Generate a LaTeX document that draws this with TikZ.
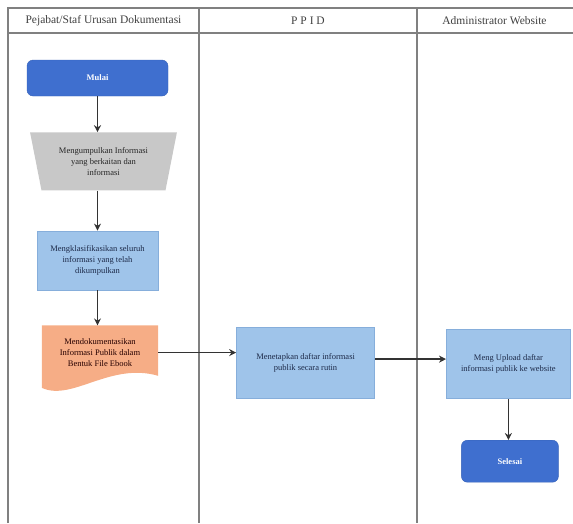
\documentclass[tikz,border=0pt]{standalone}
\usepackage{fontspec}
\setmainfont{Liberation Serif}
\usetikzlibrary{arrows.meta}
\usetikzlibrary{positioning}
\usetikzlibrary{shapes.geometric}
\usetikzlibrary{backgrounds}
\usepackage{xcolor}

\definecolor{mulaiblue}{HTML}{3F6FCF}
\definecolor{mulaiedge}{HTML}{3561B8}
\definecolor{boxblue}{HTML}{9FC4EA}
\definecolor{boxedge}{HTML}{86AEDB}
\definecolor{trapgray}{HTML}{C8C8C8}
\definecolor{docorange}{HTML}{F6AD86}
\definecolor{laneline}{HTML}{808080}
\definecolor{navytext}{HTML}{1E2B4A}

\begin{document}
\begin{tikzpicture}[x=1pt, y=-1pt,
	header/.style={font=\fontsize{11.5}{13}\selectfont, text=black!75},
	terminal/.style={rectangle, rounded corners=6pt, fill=mulaiblue, draw=mulaiedge, inner sep=0pt,
		text=white, font=\fontsize{8.5}{10}\selectfont\bfseries},
	process/.style={rectangle, fill=boxblue, draw=boxedge, line width=0.8pt, inner sep=0pt,
		align=center, text=navytext, font=\fontsize{8.5}{11}\selectfont},
	flow/.style={-{Stealth[length=7pt,width=7pt]}, draw=black!80, line width=1.5pt}]
	\useasboundingbox (0,0) rectangle (573,523);

	% swimlanes
	\draw[laneline, line width=1.2pt] (8,523) -- (8,8) -- (573,8);
	\draw[laneline, line width=1.2pt] (8,33) -- (573,33);
	\draw[laneline, line width=1.2pt] (199,8) -- (199,523);
	\draw[laneline, line width=1.2pt] (417,8) -- (417,523);

	\node[header] (h_staf) at (103.5,20.5) {Pejabat/Staf Urusan Dokumentasi};
	\node[header] (h_ppid) at (308,20.5) {P P I D};
	\node[header] (h_admin) at (494.5,20.5) {Administrator Website};

	% Pejabat/Staf lane
	\node[terminal, minimum width=141pt, minimum height=36pt] (mulai) at (97.5,78) {Mulai};
	\node[trapezium, trapezium stretches=true, shape border rotate=180,
		trapezium left angle=73.7, trapezium right angle=73.7,
		minimum width=147pt, minimum height=58pt, inner sep=0pt,
		fill=trapgray, align=center, text=black!85, font=\fontsize{8.5}{11}\selectfont,
		below=36pt of mulai, xshift=6pt] (kumpul)
		{Mengumpulkan Informasi\\yang berkaitan dan\\informasi};
	\node[process, minimum width=121pt, minimum height=59pt,
		below=40pt of kumpul, xshift=-6pt] (klas)
		{Mengklasifikasikan seluruh\\informasi yang telah\\dikumpulkan};
	\node[minimum width=116pt, minimum height=54pt, inner sep=0pt, align=center,
		text=black!85!red, font=\fontsize{8.5}{11}\selectfont,
		below=35pt of klas, xshift=2.5pt] (doc)
		{Mendokumentasikan\\Informasi Publik dalam\\Bentuk File Ebook};
	\begin{scope}[on background layer]
		\fill[docorange] (doc.north west) -- (doc.north east) -- ([yshift=4pt]doc.south east)
			.. controls ([xshift=-48pt,yshift=18pt]doc.south east) and ([xshift=30pt,yshift=-22pt]doc.south west)
			.. ([yshift=-8pt]doc.south west) -- cycle;
	\end{scope}

	\draw[flow] (mulai.south) -- (mulai.south |- kumpul.north);
	\draw[flow] (klas.north |- kumpul.south) -- (klas.north);
	\draw[flow] (klas.south) -- (klas.south |- doc.north);

	% PPID lane
	\node[process, minimum width=138pt, minimum height=71pt,
		right=78pt of doc, yshift=-10.5pt] (tetap)
		{Menetapkan daftar informasi\\publik secara rutin};
	\draw[flow] (doc.east) -- (doc.east -| tetap.west);

	% Administrator lane
	\node[process, minimum width=124pt, minimum height=69pt,
		right=71pt of tetap, yshift=-1pt] (upload)
		{Meng Upload daftar\\informasi publik ke website};
	\node[terminal, minimum width=97pt, minimum height=42pt,
		below=41pt of upload, xshift=1.5pt] (selesai) {Selesai};

	\draw[flow] ([yshift=4pt]tetap.east) -- ([yshift=4pt]tetap.east -| upload.west);
	\draw[flow] (upload.south) -- (upload.south |- selesai.north);
\end{tikzpicture}
\end{document}
